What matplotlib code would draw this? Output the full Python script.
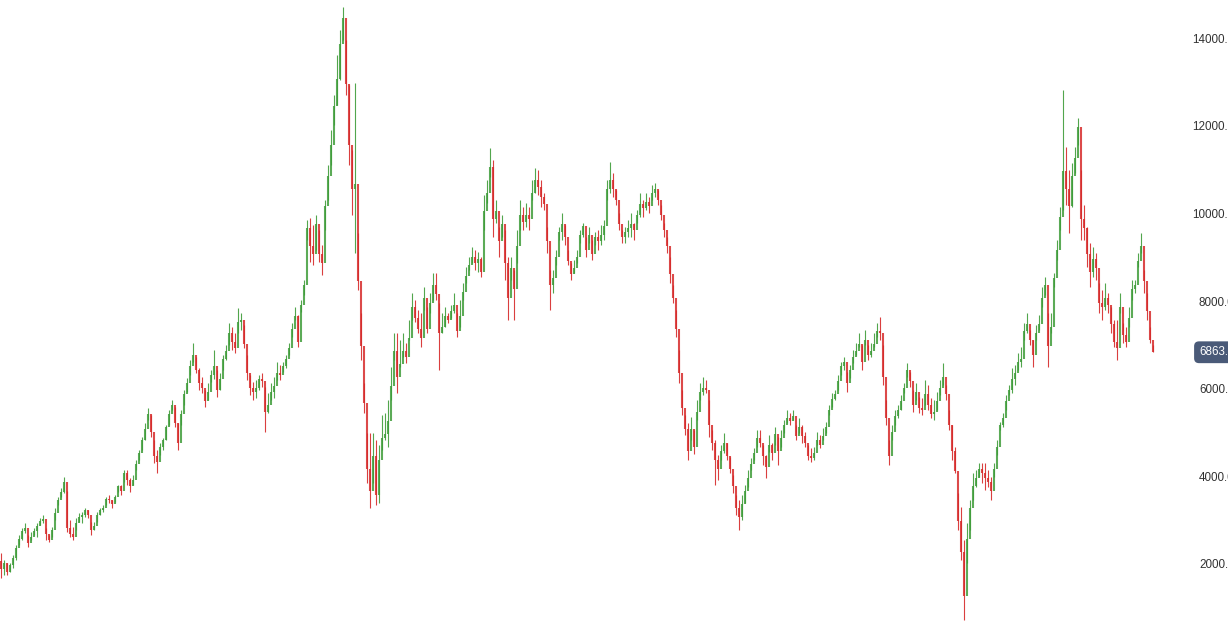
import matplotlib
matplotlib.use("Agg")
import matplotlib.pyplot as plt
import matplotlib.transforms as mtransforms
import numpy as np

# price series, one bar every ~3 px
first_open = 2100

closes = [
    1900, 2050, 1850, 2000, 2150, 2400, 2600, 2780, 2850, 2500,
    2650, 2780, 2900, 3000, 3050, 2700, 2580, 2800, 3200, 3480,
    3680, 3900, 2850, 2700, 2650, 2950, 3100, 3150, 3250, 3150,
    2800, 2900, 3150, 3250, 3300, 3500, 3480, 3400, 3550, 3800,
    3700, 4100, 3950, 3800, 3950, 4300, 4550, 4850, 5100, 5450,
    5050, 4500, 4350, 4700, 4850, 5150, 5450, 5650, 5250, 4800,
    5450, 5900, 6150, 6550, 6800, 6450, 6150, 6050, 5750, 5950,
    6350, 6550, 6000, 6250, 6700, 6900, 7300, 7100,
    6950, 7550, 7600, 7050, 6400, 6050, 5950, 6050, 6250, 6200,
    5500, 5650, 5950, 6100, 6400, 6350, 6550, 6700, 6950, 7400,
    7700, 7100, 7950, 8400, 9700, 9300, 9100, 9800, 9100, 8900,
    10200, 10900, 11600, 12500, 13100, 13900, 14500, 13000, 11600, 10600,
    10700, 8500, 7000, 5700, 4200, 3700, 4500, 3600, 4400, 4900,
    5000, 5300, 6100, 6900, 6300, 6600, 6900, 6750, 7200, 7900,
    7650, 7400, 7200, 8100, 7400, 8000, 8400, 8200, 7300, 7450,
    7700, 7600, 7800, 7950, 7350, 7700, 8250, 8600, 8850, 9050,
    8900, 9000, 8700, 10100, 10500, 11100, 9900, 10100, 9400, 9800,
    8900, 8100, 8800, 8300, 9300, 10000, 9850, 10000, 9900, 10500,
    10800, 10650, 10400, 10250, 9400, 8400, 8550, 9050, 9600, 9800,
    9500, 8950, 8650, 8800, 9050, 9550, 9750, 9200, 9550, 9100,
    9500, 9400, 9550, 9750, 10600, 10800, 10600, 10350, 9800, 9500,
    9600, 9700, 9800, 9650, 10000, 10250, 10150, 10300, 10200, 10500,
    10600, 10350, 10000, 9650, 9300, 8650, 8100, 7400, 6400, 5600,
    5100, 4600, 5100, 4700, 5500, 5950, 6050, 6000, 5200, 4800,
    4400, 4200, 4600, 4800, 4500, 4200, 3800, 3300, 3100, 3400,
    3700, 4000, 4300, 4550, 4900, 4800, 4500, 4250, 4750, 4550,
    5000, 4600, 4900, 5200, 5350, 5300, 5400, 4950, 5150, 4950,
    4800, 4500, 4450, 4550, 4850, 4750, 4950, 5150, 5550, 5800,
    5900, 6200, 6550, 6650, 6150, 6450, 6750, 6900, 7050, 6650,
    7150, 6800, 6900, 7050, 7350, 7300, 6300, 5350, 4500, 5050,
    5400, 5550, 5750, 6050, 6450, 6200, 5650, 5950, 5600, 5550,
    5900, 5650, 5450, 5500, 5750, 6050, 6300, 5900, 5200, 4600,
    4150, 3000, 2300, 1300, 2600, 3300, 3800, 4000, 4200, 4100,
    4000, 3900, 3700, 4200, 4700, 5200, 5350, 5750, 6000, 6250,
    6400, 6650, 6700, 7350, 7500, 7150, 6800, 7300, 7500, 8100,
    8400, 7000, 7450, 8550, 9200, 9950, 11000, 10600, 10200, 10900,
    11300, 12000, 9900, 9700, 9100, 8700, 9000, 8800, 8000, 7900,
    8100, 7950, 7500, 7100, 6950, 7900, 7250, 7100, 7650, 8300,
    8400, 8950, 9300, 8500, 7800, 7150, 6863,
]

highs = [
    2274, 2114, 2046, 2046, 2230, 2450, 2690, 2850, 2960, 2690,
    2750, 2850, 2960, 3080, 3140, 2850, 2690, 2870, 3300, 3550,
    3760, 4010, 3700, 3030, 2870, 3080, 3190, 3210, 3300, 3250,
    2980, 2980, 3210, 3300, 3370, 3550, 3600, 3490, 3600, 3830,
    3830, 4170, 4170, 3990, 4060, 4400, 4630, 4930, 5250, 5590,
    5430, 4860, 4630, 4790, 4900, 5200, 5540, 5770, 5610, 5250,
    5540, 6000, 6270, 6690, 7070, 6750, 6500, 6300, 6000, 6160,
    6460, 6910, 6460, 6390, 6800, 7030, 7530, 7440,
    7300, 7870, 7760, 7490, 6800, 6340, 6180, 6230, 6340, 6390,
    6070, 5930, 6160, 6300, 6640, 6570, 6640, 6800, 7070, 7530,
    7900, 7710, 8060, 8510, 9890, 9930, 9770, 10000, 9660, 9310,
    10340, 11140, 11940, 12740, 13660, 14230, 14750, 14000, 12970, 11490,
    13020, 9590, 7760, 6160, 5020, 5020, 5020, 4860, 4740, 5430,
    5470, 5770, 6530, 7300, 7300, 7140, 7300, 7070, 7600, 8220,
    8060, 7830, 7760, 8350, 7900, 8220, 8670, 8670, 7990, 7760,
    7900, 7760, 7940, 8220, 7760, 8060, 8450, 8810, 9040, 9270,
    9200, 9150, 9040, 10460, 10800, 11530, 11260, 10340, 9730, 10000,
    9660, 9040, 9040, 8740, 9660, 10340, 10180, 10270, 10180, 10800,
    11070, 11030, 10800, 10500, 9730, 8740, 8740, 9200, 9730, 10050,
    9770, 9200, 8900, 8970, 9200, 9660, 9820, 9500, 9730, 9430,
    9610, 9660, 9770, 9890, 10800, 11210, 10960, 10570, 10050, 9660,
    9730, 9890, 10050, 9820, 10110, 10500, 10340, 10500, 10410, 10690,
    10730, 10570, 10230, 9820, 9500, 9040, 8400, 7830, 6910, 6000,
    5430, 5250, 5380, 5090, 5770, 6160, 6300, 6230, 5770, 5090,
    4860, 4510, 4740, 5020, 4790, 4470, 4060, 3600, 3490, 3600,
    3830, 4170, 4450, 4680, 5090, 5090, 4740, 4510, 4970, 4790,
    5150, 4930, 5090, 5310, 5540, 5470, 5540, 5200, 5360, 5200,
    5040, 4740, 4680, 4700, 5040, 4970, 5130, 5270, 5660, 5930,
    6000, 6340, 6640, 6750, 6410, 6570, 6910, 7070, 7300, 7030,
    7370, 7030, 7070, 7300, 7530, 7670, 7030, 5770, 4860, 5200,
    5540, 5660, 5890, 6160, 6620, 6410, 6000, 6160, 5840, 5820,
    6230, 6110, 5820, 5770, 5950, 6230, 6620, 6110, 5540, 5200,
    4700, 3650, 3330, 2570, 2960, 3490, 4100, 4170, 4330, 4330,
    4330, 4170, 4010, 4330, 4860, 5270, 5470, 5890, 6110, 6500,
    6570, 6850, 6980, 7530, 7760, 7370, 7140, 7490, 7710, 8350,
    8580, 7760, 7760, 8670, 9430, 10180, 12860, 11550, 11030, 11190,
    11550, 12220, 11030, 10230, 9730, 9360, 9270, 9130, 8450, 8290,
    8450, 8220, 7900, 7600, 7600, 8220, 7530, 7440, 7900, 8510,
    8510, 9130, 9590, 8740, 8220, 7440, 7030,
]

lows = [
    1703, 1770, 1780, 1840, 1930, 2114, 2450, 2570, 2730, 2410,
    2570, 2690, 2640, 2920, 2960, 2570, 2520, 2640, 3030, 3370,
    3550, 3650, 2750, 2640, 2570, 2800, 2980, 2960, 3100, 3080,
    2690, 2800, 2980, 3140, 3210, 3370, 3420, 3300, 3440, 3670,
    3600, 3900, 3830, 3670, 3830, 4170, 4400, 4630, 4860, 5310,
    4930, 4330, 4100, 4510, 4630, 4860, 5200, 5540, 5150, 4630,
    5200, 5660, 5950, 6340, 6640, 6390, 6000, 5930, 5610, 5770,
    6180, 6250, 5840, 6000, 6460, 6690, 7030, 6910,
    6850, 7300, 7370, 6960, 6230, 5890, 5770, 5820, 6000, 6070,
    5040, 5470, 5770, 5820, 6230, 6230, 6410, 6500, 6800, 7210,
    7600, 6980, 7780, 8170, 9430, 8930, 8860, 9200, 8930, 8630,
    9660, 10340, 11140, 12060, 12510, 13090, 14000, 12740, 11140, 10000,
    9130, 8290, 6690, 5470, 3870, 3300, 3870, 3370, 3420, 4630,
    4860, 4700, 5770, 6690, 5930, 6530, 6750, 6620, 7140, 7600,
    7550, 7300, 6980, 7830, 7300, 7760, 8060, 8060, 6460, 7300,
    7440, 7530, 7650, 7760, 7210, 7440, 8060, 8450, 8740, 8900,
    8740, 8700, 8580, 9660, 10270, 10870, 9500, 9820, 9040, 9500,
    8510, 7600, 8510, 7600, 8900, 9660, 9660, 9730, 9660, 10340,
    10500, 10460, 10180, 10110, 9130, 7830, 8220, 8860, 9430, 9430,
    9310, 8860, 8510, 8670, 8900, 9360, 9500, 9040, 9360, 8970,
    9310, 9200, 9310, 9430, 10340, 10500, 10410, 10230, 9660, 9360,
    9360, 9500, 9500, 9430, 9820, 9950, 9950, 10110, 10050, 10340,
    10410, 10230, 9890, 9500, 9130, 8450, 7990, 7210, 6160, 5430,
    4970, 4400, 4860, 4540, 5310, 5770, 5890, 5930, 4930, 4630,
    3830, 3940, 4400, 4560, 4400, 4100, 3650, 3140, 2800, 3030,
    3420, 3780, 4170, 4400, 4700, 4700, 4290, 3990, 4580, 4400,
    4740, 4290, 4700, 5020, 5250, 5200, 5310, 4860, 5020, 4790,
    4700, 4400, 4350, 4400, 4740, 4680, 4860, 5020, 5430, 5610,
    5770, 6000, 6340, 6460, 5950, 6270, 6620, 6800, 6980, 6460,
    7030, 6690, 6750, 6980, 7210, 7140, 6110, 5200, 4290, 4860,
    5200, 5360, 5540, 5930, 6300, 6070, 5500, 5770, 5470, 5430,
    5660, 5540, 5360, 5310, 5540, 5890, 6110, 5770, 5090, 4400,
    4100, 2800, 2110, 740, 2050, 2800, 3490, 3780, 4010, 3870,
    3710, 3780, 3490, 4010, 4510, 5090, 5150, 5540, 5890, 5930,
    6110, 6460, 6530, 7140, 7300, 7030, 6530, 7140, 7370, 7900,
    8170, 6530, 7300, 8350, 8970, 9660, 10110, 10230, 9590, 10180,
    10960, 11600, 9430, 9430, 8810, 8350, 8580, 8510, 7760, 7600,
    7830, 7760, 7300, 6980, 6690, 7760, 7070, 6980, 7440, 8060,
    8220, 8810, 9130, 8220, 7600, 7070, 6860,
]

price_ticks = [2000, 4000, 6000, 8000, 10000, 12000, 14000]
last_price = 6863

UP = "#3f9c3a"
DOWN = "#d62a2a"

closes = np.array(closes, dtype=float)
highs = np.array(highs, dtype=float)
lows = np.array(lows, dtype=float)
opens = np.concatenate([[first_open], closes[:-1]])
idx = np.arange(len(closes))
colors = np.where(closes >= opens, UP, DOWN)

fig = plt.figure(figsize=(12.28, 6.39), dpi=100)
ax_w = 1185
ax = fig.add_axes([0, 0, ax_w / 1228, 1])

# wicks then bodies, thin like the dense original
ax.vlines(idx, lows, highs, colors=colors, linewidth=0.8, alpha=0.9)
ax.vlines(idx, opens, closes, colors=colors, linewidth=1.5, alpha=0.85)

ax.set_xlim(-1 / 3, (ax_w - 1) / 3)
ax.set_ylim(309, 14914)

for s in ax.spines.values():
    s.set_visible(False)
ax.set_xticks([])
ax.set_yticks([])

# price labels are right-aligned past the figure edge, so they get cut off
trans = mtransforms.blended_transform_factory(ax.transAxes, ax.transData)
for v in price_ticks:
    ax.text(1241 / ax_w, v, f"{v:.2f}", transform=trans, ha="right",
            va="center", fontsize=8.4, color="#333333",
            family="Liberation Sans", clip_on=False)

# last price tag
ax.text(1199 / ax_w, last_price, f"{last_price:.2f}", transform=trans,
        ha="left", va="center", fontsize=8.4, color="white",
        family="Liberation Sans",
        bbox=dict(boxstyle="round,pad=0.42", fc="#4a5a78", ec="none"),
        clip_on=False)

fig.savefig("out.png", dpi=100)
